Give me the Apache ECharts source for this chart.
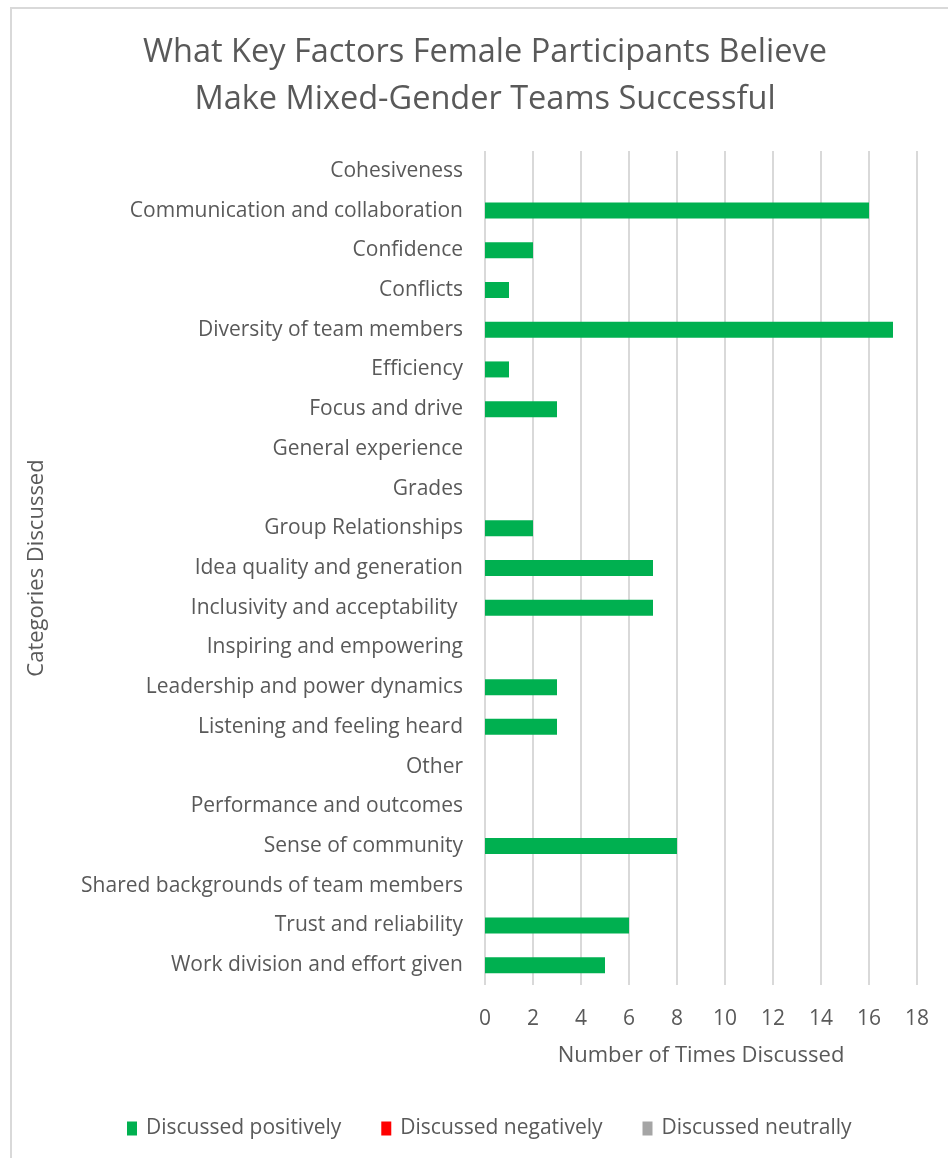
<!DOCTYPE html>
<html>
<head>
<meta charset="utf-8">
<script src="https://cdn.jsdelivr.net/npm/echarts@6/dist/echarts.min.js"></script>
<style>
  html, body { margin: 0; padding: 0; background: #fff; }
  #frame { position: absolute; left: 10px; top: 7px; width: 960px; height: 1180px; border: 2px solid #d9d9d9; box-sizing: border-box; }
  #chart { position: absolute; left: 0; top: 0; width: 948px; height: 1158px; }
</style>
</head>
<body>
<div id="frame"></div>
<div id="chart"></div>
<script>
var categories = ['Cohesiveness', 'Communication and collaboration', 'Confidence', 'Conflicts',
    'Diversity of team members', 'Efficiency', 'Focus and drive', 'General experience', 'Grades',
    'Group Relationships', 'Idea quality and generation', 'Inclusivity and acceptability ',
    'Inspiring and empowering', 'Leadership and power dynamics', 'Listening and feeling heard',
    'Other', 'Performance and outcomes', 'Sense of community', 'Shared backgrounds of team members',
    'Trust and reliability', 'Work division and effort given'];
var positive = [0, 16, 2, 1, 17, 1, 3, 0, 0, 2, 7, 7, 0, 3, 3, 0, 0, 8, 0, 6, 5];
var negative = [0, 0, 0, 0, 0, 0, 0, 0, 0, 0, 0, 0, 0, 0, 0, 0, 0, 0, 0, 0, 0];
var neutral = [0, 0, 0, 0, 0, 0, 0, 0, 0, 0, 0, 0, 0, 0, 0, 0, 0, 0, 0, 0, 0];
var seriesNames = ['Discussed positively', 'Discussed negatively', 'Discussed neutrally'];

var chart = echarts.init(document.getElementById('chart'));
var font = 'Open Sans';
var txt = '#595959';

chart.setOption({
    animation: false,
    textStyle: { fontFamily: font },
    color: ['#00b050', '#ff0000', '#a5a5a5'],
    title: {
        text: 'What Key Factors Female Participants Believe\nMake Mixed-Gender Teams Successful',
        left: 480,
        textAlign: 'center',
        top: 24,
        textStyle: { fontFamily: font, fontSize: 32.5, fontWeight: 'normal', color: txt, lineHeight: 47 }
    },
    legend: {
        bottom: 14,
        left: 122,
        itemWidth: 10,
        itemHeight: 14,
        itemGap: 40,
        icon: 'rect',
        textStyle: { fontFamily: font, fontSize: 21, color: txt, padding: [0, 0, 0, 4] },
        data: seriesNames
    },
    grid: { left: 485, right: 31, top: 151, bottom: 173 },
    xAxis: {
        type: 'value',
        min: 0,
        max: 18,
        interval: 2,
        name: 'Number of Times Discussed',
        nameLocation: 'middle',
        nameGap: 60,
        nameTextStyle: { fontFamily: font, fontSize: 22, color: txt },
        axisLine: { show: false },
        axisTick: { show: false },
        axisLabel: { fontFamily: font, fontSize: 21, color: txt, margin: 24 },
        splitLine: { lineStyle: { color: '#d9d9d9', width: 2 } }
    },
    yAxis: {
        type: 'category',
        inverse: true,
        data: categories,
        name: 'Categories Discussed',
        nameLocation: 'middle',
        nameGap: 437,
        nameTextStyle: { fontFamily: font, fontSize: 22, color: txt },
        axisLine: { show: false },
        axisTick: { show: false },
        axisLabel: { fontFamily: font, fontSize: 21, color: txt, margin: 22 }
    },
    series: [
        { name: seriesNames[0], type: 'bar', stack: 'all', barWidth: 16, data: positive },
        { name: seriesNames[1], type: 'bar', stack: 'all', barWidth: 16, data: negative },
        { name: seriesNames[2], type: 'bar', stack: 'all', barWidth: 16, data: neutral }
    ]
});
</script>
</body>
</html>
